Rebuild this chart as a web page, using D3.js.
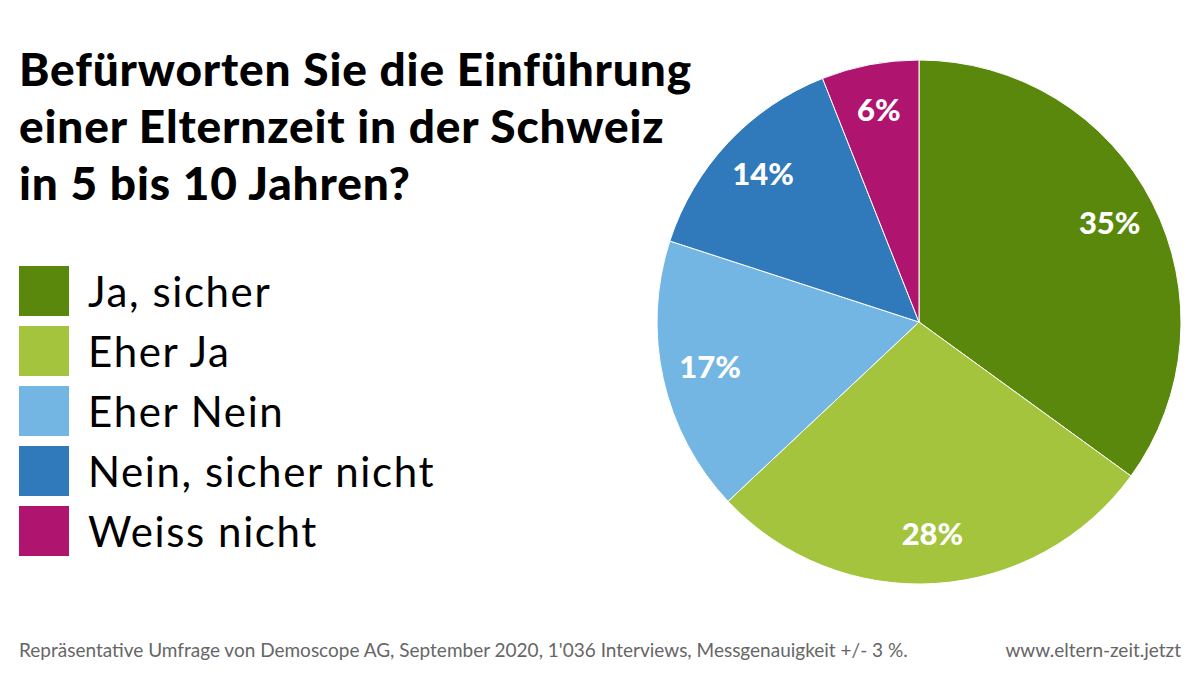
<!DOCTYPE html>
<html>
<meta charset="utf-8">
<script src="https://d3js.org/d3.v7.js"></script>
<style>
  body { margin: 0; background: #fff; }
  text { font-family: Lato, "Noto Sans", sans-serif; }
</style>
<body>
<div id="chart"></div>
<script>
    // data
    var categories = ["Ja, sicher", "Eher Ja", "Eher Nein", "Nein, sicher nicht", "Weiss nicht"];
    var values = [35, 28, 17, 14, 6];
    var colors = ["#5a880c", "#a3c43c", "#74b6e3", "#307abb", "#af146f"];
    var titleLines = ["Befürworten Sie die Einführung", "einer Elternzeit in der Schweiz", "in 5 bis 10 Jahren?"];
    var footLeft = "Repräsentative Umfrage von Demoscope AG, September 2020, 1'036 Interviews, Messgenauigkeit +/- 3 %.";
    var footRight = "www.eltern-zeit.jetzt";

    var width = 1200, height = 675;
    var svg = d3.select("#chart").append("svg")
        .attr("width", width)
        .attr("height", height);

    // title
    svg.append("g").selectAll("text")
        .data(titleLines)
        .enter().append("text")
        .attr("x", 19)
        .attr("y", function (d, i) { return 86 + i * 57; })
        .style("font-size", "46px")
        .style("letter-spacing", "0.85px")
        .style("font-weight", "900")
        .style("fill", "#000")
        .text(function (d) { return d; });

    // legend
    var legend = svg.append("g").selectAll("g")
        .data(categories)
        .enter().append("g")
        .attr("transform", function (d, i) { return "translate(19," + (266 + i * 60) + ")"; });
    legend.append("rect")
        .attr("width", 50).attr("height", 50)
        .style("fill", function (d, i) { return colors[i]; });
    legend.append("text")
        .attr("x", 69).attr("y", 41)
        .style("font-size", "42px")
        .style("letter-spacing", "1.6px")
        .style("fill", "#000")
        .text(function (d) { return d; });

    // pie
    var cx = 919, cy = 322, r = 262;
    var pie = d3.pie().sort(null)(values);
    var arc = d3.arc().innerRadius(0).outerRadius(r);
    var labelArc = d3.arc().innerRadius(214).outerRadius(214);
    var g = svg.append("g").attr("transform", "translate(" + cx + "," + cy + ")");
    g.selectAll("path")
        .data(pie)
        .enter().append("path")
        .attr("d", arc)
        .style("fill", function (d, i) { return colors[i]; })
        .style("stroke", "#fff")
        .style("stroke-width", 1);
    g.selectAll(".lbl")
        .data(pie)
        .enter().append("text")
        .attr("class", "lbl")
        .attr("transform", function (d) { return "translate(" + labelArc.centroid(d) + ")"; })
        .attr("text-anchor", "middle")
        .attr("dy", "0.3em")
        .style("font-size", "31px")
        .style("font-weight", "900")
        .style("fill", "#fff")
        .text(function (d) { return d.data + "%"; });

    // footer
    svg.append("text")
        .attr("x", 19).attr("y", 657)
        .style("font-size", "19px")
        .style("fill", "#666")
        .text(footLeft);
    svg.append("text")
        .attr("x", 1181).attr("y", 657)
        .attr("text-anchor", "end")
        .style("font-size", "19px")
        .style("fill", "#666")
        .text(footRight);
</script>
</body>
</html>
